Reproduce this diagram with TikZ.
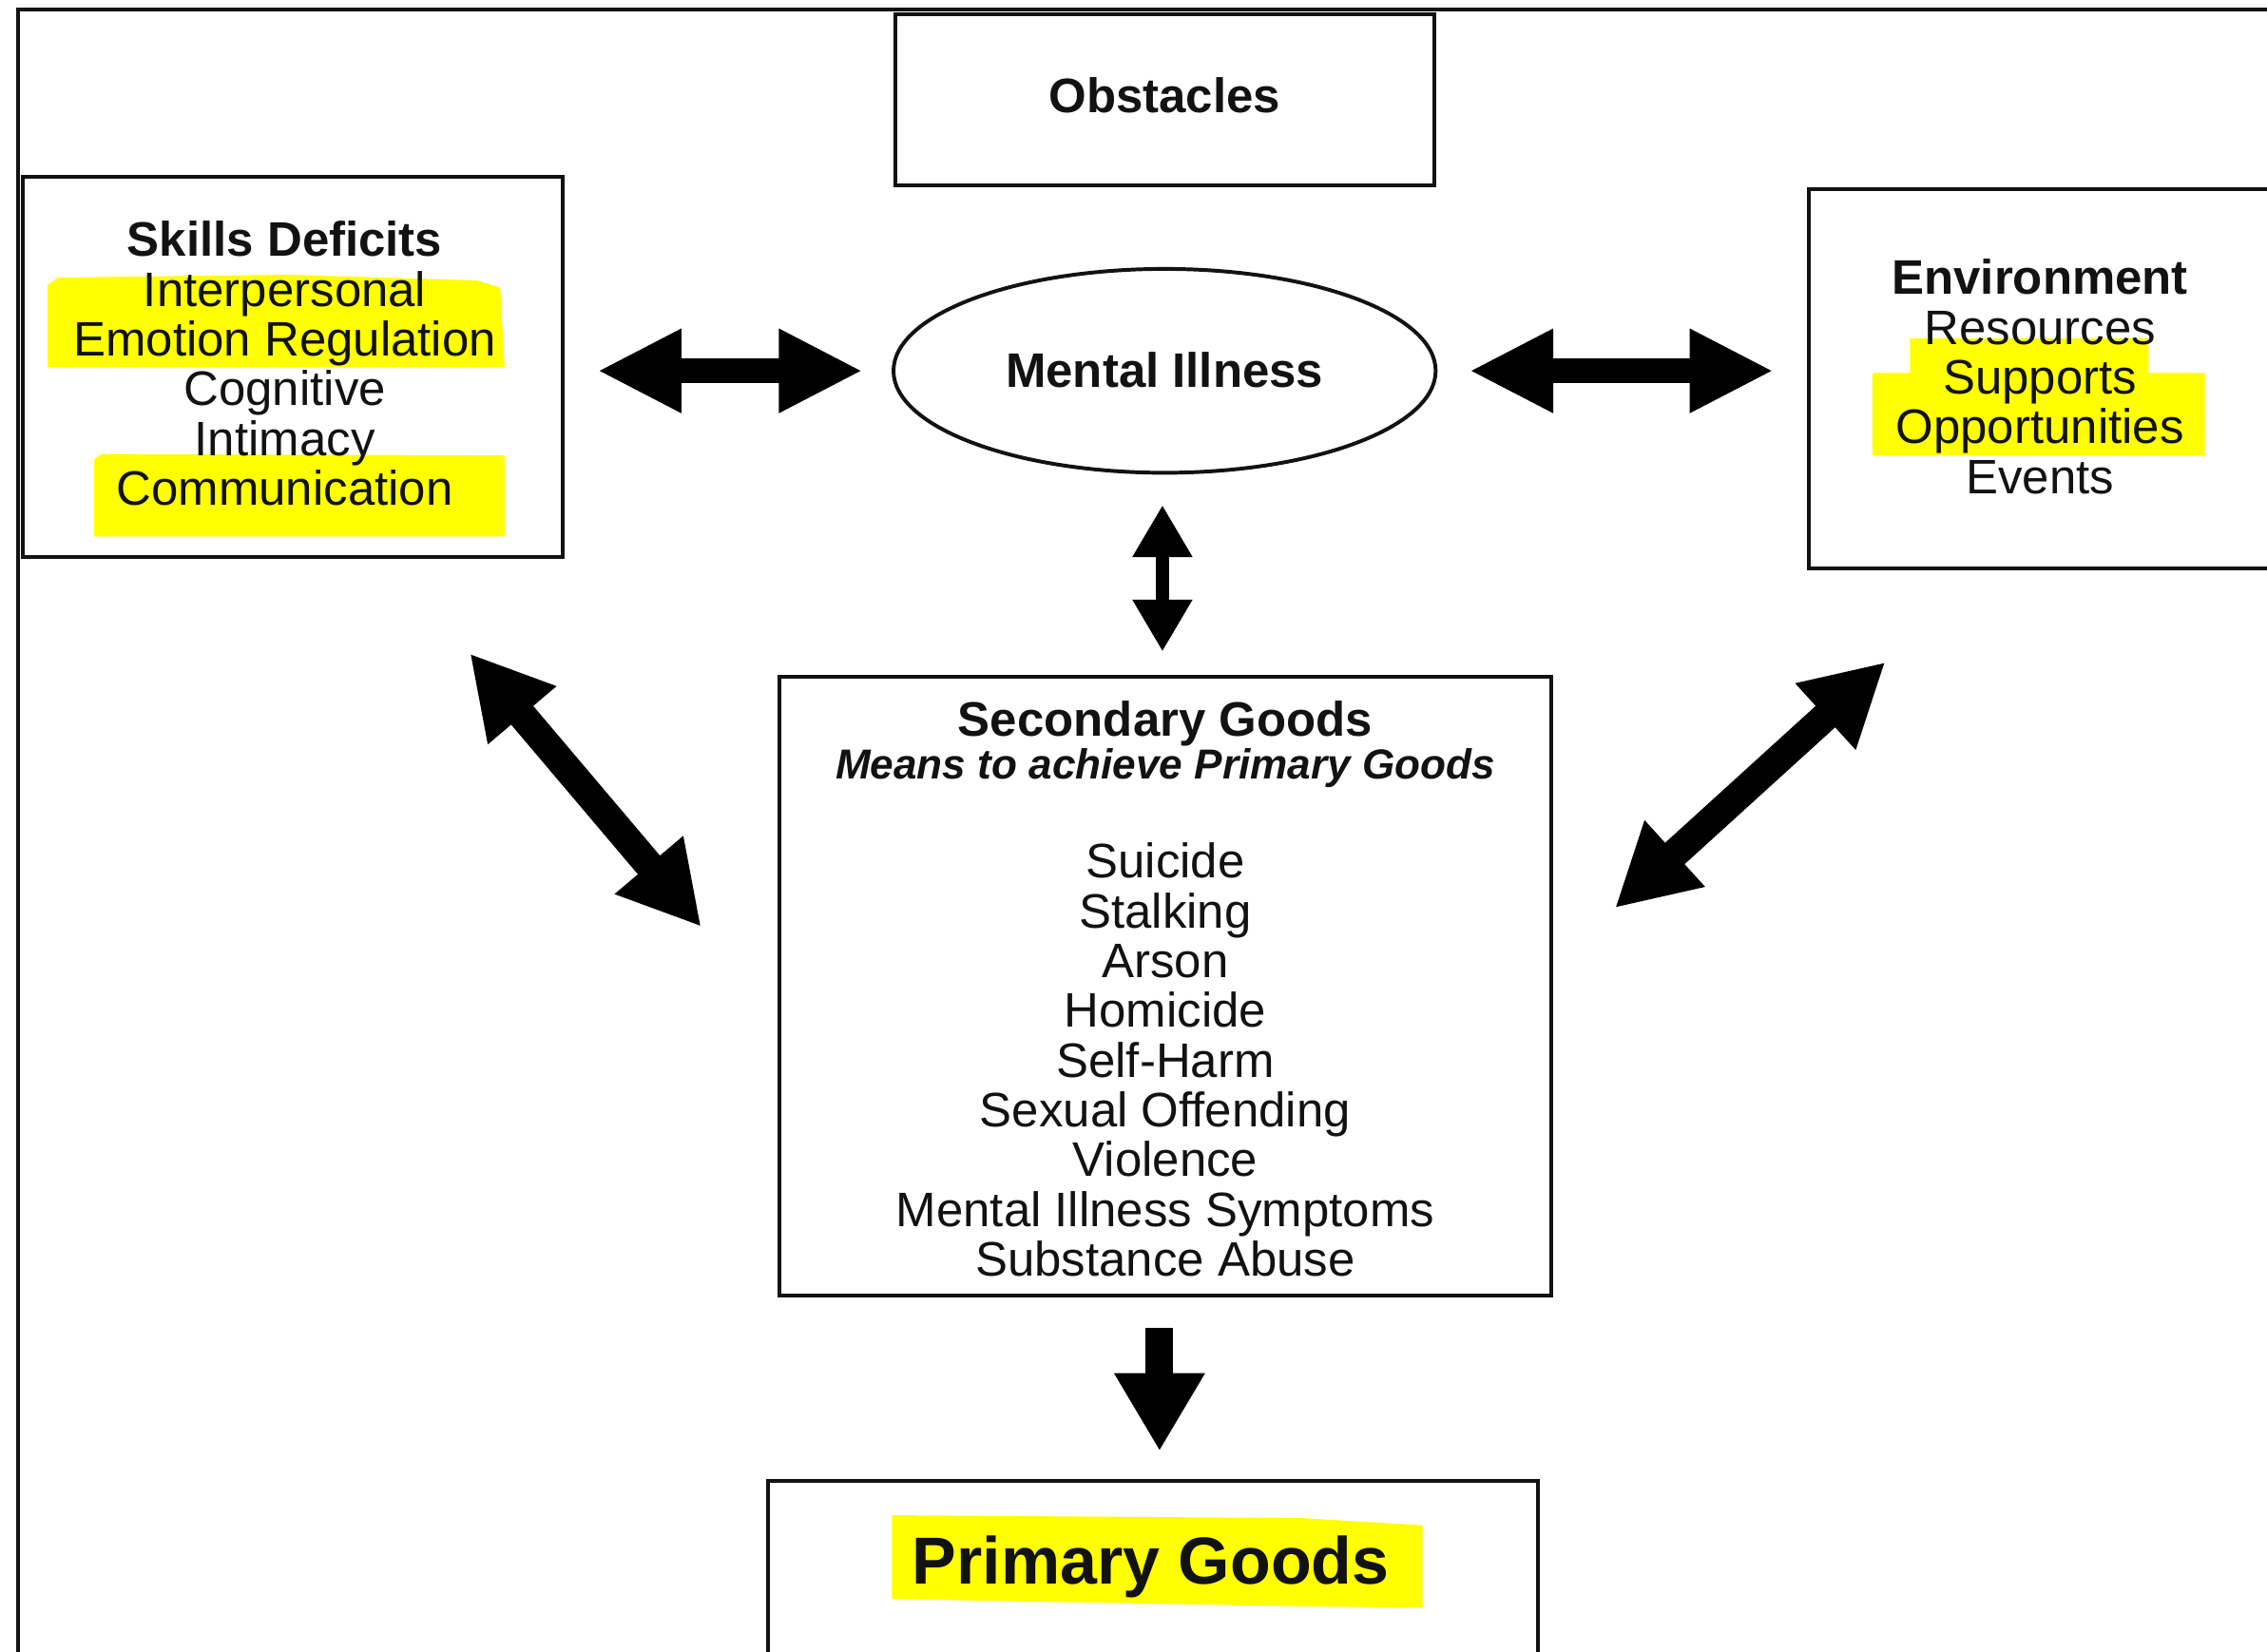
\documentclass[tikz,border=0pt]{standalone}
\usepackage{fontspec}
\setmainfont{Liberation Sans}
\usetikzlibrary{arrows.meta,shapes.geometric}
\definecolor{hl}{RGB}{255,255,0}
\definecolor{ink}{RGB}{18,18,18}
\begin{document}
\begin{tikzpicture}[x=1pt,y=-1pt,
  box/.style={draw=ink,line width=2.6pt,rectangle,inner sep=0pt},
  txt/.style={text=ink,align=center,inner sep=0pt,font=\fontsize{33.5}{34.4}\selectfont},
  hltr/.style={fill=hl,draw=none},
  dbl/.style={draw=black,line width=17pt,{Triangle[length=58pt,width=54pt]}-{Triangle[length=58pt,width=54pt]}},
  vdbl/.style={draw=black,line width=9pt,{Triangle[length=36pt,width=39pt]}-{Triangle[length=36pt,width=39pt]}},
  ddbl/.style={draw=black,line width=20pt,{Triangle[length=56pt,width=58pt]}-{Triangle[length=56pt,width=58pt]}},
  sgl/.style={draw=black,line width=19pt,-{Triangle[length=54pt,width=59pt]}}
]
\useasboundingbox (0,0) rectangle (1568,1142);
\clip (0,0) rectangle (1568,1142);
\fill[white] (0,0) rectangle (1568,1142);

% highlights
\fill[hltr] (33,197) -- (40,192) -- (200,190) -- (330,194) -- (346,199) -- (349,254) -- (33,254) -- cycle;
\fill[hltr] (65,318) -- (70,314) -- (349,315) -- (349,371) -- (65,371) -- cycle;
\fill[hltr] (1321,234) -- (1486,234) -- (1486,258) -- (1525,258) -- (1525,315) -- (1295,315) -- (1295,258) -- (1321,258) -- cycle;
\fill[hltr] (617,1048) -- (900,1050) -- (984,1055) -- (984,1112) -- (900,1111) -- (617,1106) -- cycle;

% outer frame
\draw[ink,line width=3pt] (12.5,1150) -- (12.5,6.5) -- (1580,6.5);

% boxes
\node[box,minimum width=373pt,minimum height=118pt,text depth=6.5pt,font=\fontsize{33.5}{34.4}\selectfont\bfseries,text=ink] (obst) at (805.5,69) {Obstacles};
\node[box,minimum width=373pt,minimum height=263pt] (skills) at (202.5,253.5) {};
\node[box,minimum width=349pt,minimum height=262pt] (env) at (1425.5,262) {};
\node[draw=ink,line width=2.6pt,ellipse,inner sep=0pt,minimum width=375pt,minimum height=141pt,text depth=2pt,font=\fontsize{33.5}{34.4}\selectfont\bfseries,text=ink] (mi) at (805.5,256.5) {Mental Illness};
\node[box,minimum width=534pt,minimum height=428pt] (sec) at (806,682) {};
\node[box,minimum width=533pt,minimum height=136pt] (prim) at (797.5,1092) {};

% texts
\node[txt] (skillsT) at (197,251.5) {\textbf{Skills Deficits}\\Interpersonal\\Emotion Regulation\\Cognitive\\Intimacy\\Communication};
\node[txt] (envT) at (1411,260.5) {\textbf{Environment}\\Resources\\Supports\\Opportunities\\Events};
\node[txt,anchor=base] (secH) at (806,509) {\textbf{Secondary Goods}};
\node[txt,anchor=base,font=\fontsize{29}{30}\selectfont\bfseries\itshape] (secM) at (806,539) {Means to achieve Primary Goods};
\node[txt] (secL) at (806,733) {Suicide\\Stalking\\Arson\\Homicide\\Self-Harm\\Sexual Offending\\Violence\\Mental Illness Symptoms\\Substance Abuse};
\node[txt,anchor=base,font=\fontsize{46}{48}\selectfont\bfseries] (primT) at (796,1095.5) {Primary Goods};

% connectors
\draw[dbl,shorten <=23pt,shorten >=20pt] (skills.east |- mi.west) -- (mi.west);
\draw[dbl,shorten <=22pt,shorten >=23pt] (mi.east) -- (mi.east -| env.west);
\draw[vdbl,shorten <=21pt,shorten >=16pt] ([xshift=-1.5pt]mi.south) -- ([xshift=-2pt]sec.north);
\draw[sgl,shorten <=21pt,shorten >=19pt] ([xshift=-4pt]sec.south) -- ([xshift=-4pt]sec.south |- prim.north);
\coordinate (dlA) at (325,452);
\coordinate (dlB) at (485,641);
\coordinate (drA) at (1304,458);
\coordinate (drB) at (1117,628);
\draw[ddbl] (dlA) -- (dlB);
\draw[ddbl] (drA) -- (drB);
\end{tikzpicture}
\end{document}
